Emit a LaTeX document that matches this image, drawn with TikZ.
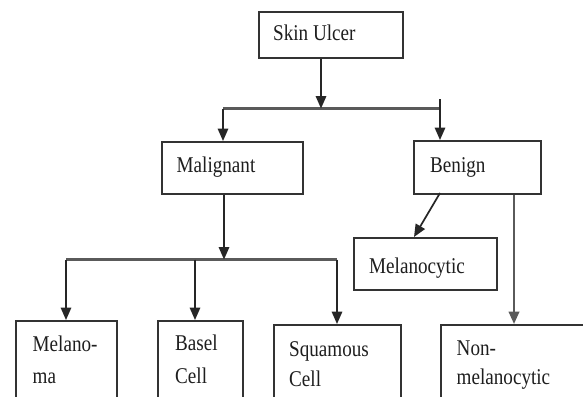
\documentclass[tikz,border=0pt]{standalone}
\usepackage{fontspec}
\setmainfont{Liberation Serif}[FakeStretch=0.85]
\usetikzlibrary{arrows.meta}
\definecolor{boxline}{HTML}{333333}
\definecolor{conn}{HTML}{262626}
\definecolor{connlight}{HTML}{5A5A5A}
\definecolor{txt}{HTML}{1E1E1E}
\tikzset{
  box/.style={draw=boxline, line width=1.8pt, rectangle, inner sep=0pt, anchor=north west, fill=white},
  lbl/.style={anchor=base west, inner sep=0pt, text=txt, font=\fontsize{22.5}{27}\selectfont},
  conline/.style={draw=conn, line width=1.7pt},
  greyline/.style={draw=connlight, line width=2.4pt},
  arr/.style={conline, -{Triangle[width=10.5pt,length=12.5pt]}},
  greyarr/.style={greyline, -{Triangle[width=10.5pt,length=12.5pt]}}
}
\begin{document}
\begin{tikzpicture}[x=1pt,y=-1pt]
\useasboundingbox (0,0) rectangle (583,396);
\clip (0,0) rectangle (583,396);
\fill[white] (0,0) rectangle (583,396);

% boxes
\node[box, minimum width=144pt, minimum height=46pt] (su) at (258,11) {};
\node[box, minimum width=141pt, minimum height=52pt] (mal) at (161,141) {};
\node[box, minimum width=127pt, minimum height=53pt] (ben) at (413,140) {};
\node[box, minimum width=143pt, minimum height=52pt] (mcy) at (353,237) {};
\node[box, minimum width=101pt, minimum height=110pt] (mel) at (15,320) {};
\node[box, minimum width=85pt, minimum height=110pt] (bas) at (157,320) {};
\node[box, minimum width=127pt, minimum height=110pt] (squ) at (273,324) {};
\node[box, minimum width=170pt, minimum height=110pt] (non) at (440,324) {};

% labels
\node[lbl] (sut) at (273,41) {Skin Ulcer};
\node[lbl] (malt) at (176.5,172) {Malignant};
\node[lbl] (bent) at (430,172) {Benign};
\node[lbl] (mcyt) at (369,273) {Melanocytic};
\node[lbl] (melt1) at (32.5,351) {Melano-};
\node[lbl] (melt2) at (32.5,383) {ma};
\node[lbl] (bast1) at (175,350) {Basel};
\node[lbl] (bast2) at (175,383) {Cell};
\node[lbl] (squt1) at (289,356) {Squamous};
\node[lbl] (squt2) at (289,386) {Cell};
\node[lbl] (nont1) at (456.5,355.5) {Non-};
\node[lbl] (nont2) at (456.5,384) {melanocytic};

% junction coordinates
\coordinate (j1) at (321,108.5);
\coordinate (jL) at (223,108.5);
\coordinate (jR) at (440,108.5);
\coordinate (tick) at (440,99);
\coordinate (j2) at (224,259.5);
\coordinate (kL) at (66,259.5);
\coordinate (kM) at (195,259.5);
\coordinate (kR) at (337,259.5);
\coordinate (b1) at (440,193);
\coordinate (b2) at (414,237);
\coordinate (nx) at (514,0);

% connectors
\draw[greyline] (jL) -- (jR);
\draw[arr] (su.south -| j1) -- (j1);
\draw[arr] (jL) -- (mal.north -| jL);
\draw[arr] (tick) -- (ben.north -| tick);

\draw[greyline] (kL) -- (kR);
\draw[arr] (mal.south -| j2) -- (j2);
\draw[arr] (kL) -- (mel.north -| kL);
\draw[arr] (kM) -- (bas.north -| kM);
\draw[arr] (kR) -- (squ.north -| kR);

\draw[arr] (b1) -- (b2);
\draw[greyarr] (ben.south -| nx) -- (non.north -| nx);
\end{tikzpicture}
\end{document}
